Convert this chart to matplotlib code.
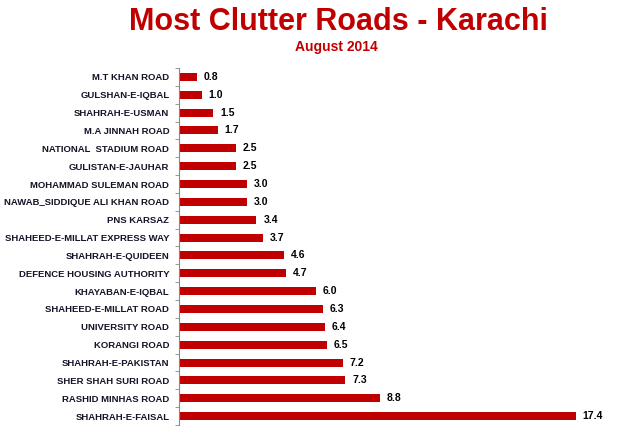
import numpy as np
import matplotlib.pyplot as plt

roads = ['M.T KHAN ROAD', 'GULSHAN-E-IQBAL', 'SHAHRAH-E-USMAN', 'M.A JINNAH ROAD',
         'NATIONAL  STADIUM ROAD', 'GULISTAN-E-JAUHAR', 'MOHAMMAD SULEMAN ROAD',
         'NAWAB_SIDDIQUE ALI KHAN ROAD', 'PNS KARSAZ', 'SHAHEED-E-MILLAT EXPRESS WAY',
         'SHAHRAH-E-QUIDEEN', 'DEFENCE HOUSING AUTHORITY', 'KHAYABAN-E-IQBAL',
         'SHAHEED-E-MILLAT ROAD', 'UNIVERSITY ROAD', 'KORANGI ROAD',
         'SHAHRAH-E-PAKISTAN', 'SHER SHAH SURI ROAD', 'RASHID MINHAS ROAD',
         'SHAHRAH-E-FAISAL']
clutter = [0.8, 1.0, 1.5, 1.7, 2.5, 2.5, 3.0, 3.0, 3.4, 3.7,
           4.6, 4.7, 6.0, 6.3, 6.4, 6.5, 7.2, 7.3, 8.8, 17.4]

plt.rcParams['font.family'] = ['Liberation Sans', 'DejaVu Sans']

red = '#C00000'
fig = plt.figure(figsize=(6.33, 4.37), dpi=100)
ax = fig.add_axes([179/633, 1-425/437, 433/633, 357/437])

y = np.arange(len(roads))
ax.barh(y, clutter, height=0.45, color=red)
for yi, v in zip(y, clutter):
    ax.text(v + 0.3, yi, f'{v:.1f}', va='center', ha='left',
            fontsize=7.5, fontweight='bold', color='black')

ax.set_xlim(0, 19)
ax.set_ylim(len(roads) - 0.5, -0.5)
ax.set_yticks(y)
ax.set_yticklabels(roads, fontsize=6.8, fontweight='bold', color='#141428')
ax.tick_params(axis='y', which='major', length=0, pad=7)
ax.set_yticks(np.arange(-0.5, len(roads)), minor=True)
ax.tick_params(axis='y', which='minor', length=3, color='#888888')
ax.set_xticks([])
for s in ['top', 'right', 'bottom']:
    ax.spines[s].set_visible(False)
ax.spines['left'].set_color('#888888')

fig.text(0.535, 0.95, 'Most Clutter Roads - Karachi', ha='center', va='center',
         fontsize=22, fontweight='bold', color=red)
fig.text(0.532, 0.893, 'August 2014', ha='center', va='center',
         fontsize=10, fontweight='bold', color=red)

fig.savefig('out.png', dpi=100)
